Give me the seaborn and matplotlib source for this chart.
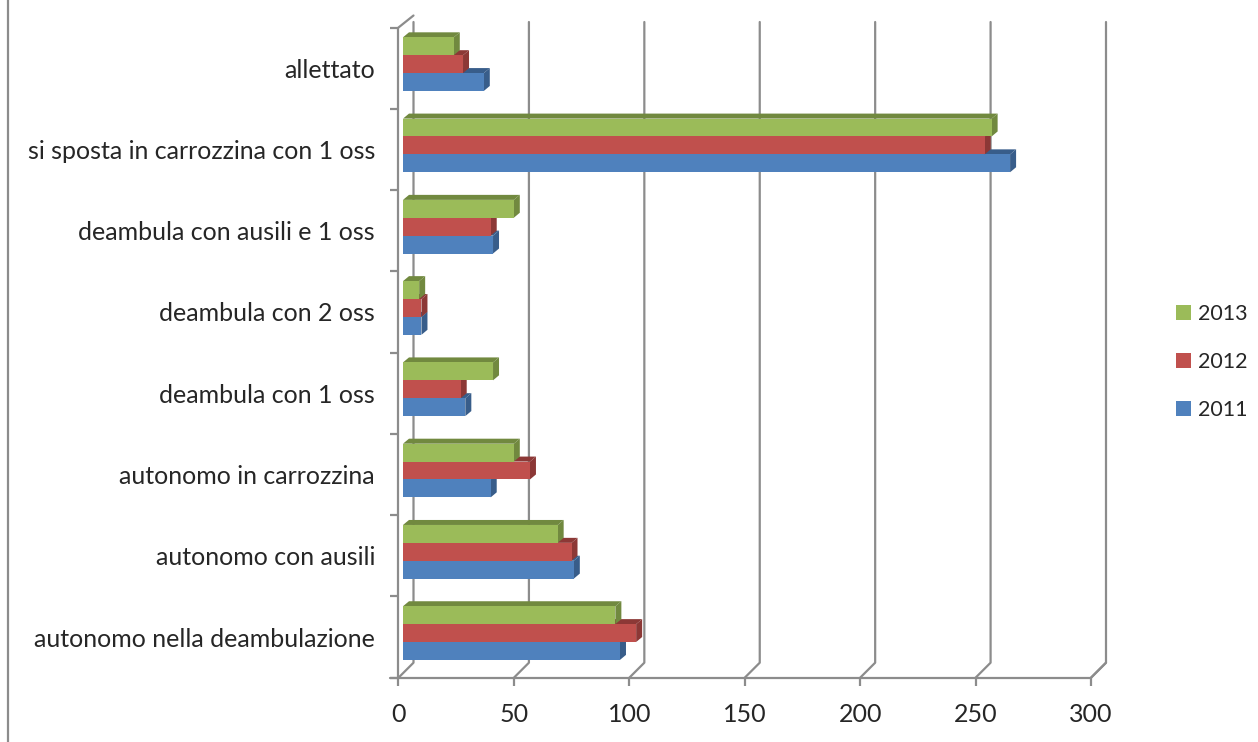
import matplotlib.pyplot as plt
import matplotlib.transforms as mtransforms
from matplotlib.patches import Polygon, Patch
from matplotlib.lines import Line2D
import seaborn as sns
import pandas as pd

# categorie (dall'alto verso il basso)
categorie = ["allettato", "si sposta in carrozzina con 1 oss", "deambula con ausili e 1 oss",
             "deambula con 2 oss", "deambula con 1 oss", "autonomo in carrozzina",
             "autonomo con ausili", "autonomo nella deambulazione"]
anni = ["2013", "2012", "2011"]
v2013 = [22, 255, 48, 7, 39, 48, 67, 92]
v2012 = [26, 252, 38, 8, 25, 55, 73, 101]
v2011 = [35, 263, 39, 8, 27, 38, 74, 94]
xticks = [0, 50, 100, 150, 200, 250, 300]

colori = {"2013": "#9BBB59", "2012": "#C0504D", "2011": "#4F81BD"}
scuri = {"2013": "#71893F", "2012": "#8C3836", "2011": "#385D8A"}

df = pd.DataFrame({
    "categoria": categorie * 3,
    "anno": ["2013"] * 8 + ["2012"] * 8 + ["2011"] * 8,
    "valore": v2013 + v2012 + v2011,
})

sns.set_style("white")
plt.rcParams["font.family"] = ["Lato", "DejaVu Sans"]

fig = plt.figure(figsize=(12.58, 7.42), dpi=100)
ax = fig.add_axes([398.5 / 1258, 1 - 677.7 / 742, (1091 - 398.5) / 1258, (677.7 - 27.5) / 742])

sns.barplot(data=df, y="categoria", x="valore", hue="anno", order=categorie,
            hue_order=anni, palette=colori, orient="h", width=0.66, ax=ax,
            legend=False, saturation=1, edgecolor="none")

ax.set_xlim(0, 300)
ax.set_ylim(7.5, -0.5)
ax.set_xlabel("")
ax.set_ylabel("")
for s in ax.spines.values():
    s.set_visible(False)

# pseudo 3D
grigio = "#8C8C8C"
pxx = ax.transData.transform((1, 0))[0] - ax.transData.transform((0, 0))[0]
pxy = abs(ax.transData.transform((0, 1))[1] - ax.transData.transform((0, 0))[1])
depth_x = 15 / pxx
depth_y = 15 / pxy
off = mtransforms.ScaledTranslation(4.5 / 100, 4 / 100, fig.dpi_scale_trans)
bx, by = 6 / pxx, 5 / pxy

n = len(categorie)
for i, anno in enumerate(anni):
    z = 10 - i  # le barre in alto coprono la faccia superiore di quelle sotto
    for p in ax.patches[i * n:(i + 1) * n]:
        x0, y0 = p.get_x(), p.get_y()
        w, h = p.get_width(), p.get_height()
        p.set_transform(ax.transData + off)
        p.set_zorder(z + 0.5)
        # asse y invertito: y0 e' il bordo superiore
        top = Polygon([(x0, y0), (x0 + bx, y0 - by), (x0 + w + bx, y0 - by), (x0 + w, y0)],
                      closed=True, facecolor=scuri[anno], edgecolor="none",
                      transform=ax.transData + off, zorder=z + 0.1)
        side = Polygon([(x0 + w, y0), (x0 + w + bx, y0 - by), (x0 + w + bx, y0 + h - by), (x0 + w, y0 + h)],
                       closed=True, facecolor=scuri[anno], edgecolor="none",
                       transform=ax.transData + off, zorder=z + 0.1)
        ax.add_patch(top)
        ax.add_patch(side)

# griglia sul fondo
y_front = 7.5
y_back = 7.5 - depth_y
y_top = -0.5 - 5.5 / pxy
for t in xticks:
    ax.add_line(Line2D([t, t + depth_x, t + depth_x], [y_front, y_back, y_top],
                       color=grigio, lw=1.6, zorder=1, clip_on=False))
# asse y frontale
ax.add_line(Line2D([0, 0], [7.5, -0.5], color=grigio, lw=1.6, zorder=1, clip_on=False))
ax.add_line(Line2D([0, depth_x], [-0.5, -0.5 - 12 / pxy], color=grigio, lw=1.6, zorder=1, clip_on=False))
# asse x frontale
ax.add_line(Line2D([-8 / pxx, 300], [7.5, 7.5], color=grigio, lw=1.6, zorder=1, clip_on=False))
ax.add_line(Line2D([300, 300 + depth_x], [7.5, y_back], color=grigio, lw=1.6, zorder=1, clip_on=False))

ax.set_xticks(xticks)
ax.set_xticklabels([str(t) for t in xticks])
ax.tick_params(axis="x", length=6, width=1.6, color=grigio, labelsize=18, pad=12, direction="out", bottom=True)
ax.set_yticks(range(n))
ax.set_yticklabels(categorie)
ax.set_yticks([k - 0.5 for k in range(n + 1)], minor=True)
ax.tick_params(axis="y", which="major", length=0, labelsize=18, pad=17)
ax.tick_params(axis="y", which="minor", length=6, width=1.6, color=grigio, left=True)

# legenda
maniglie = [Patch(facecolor=colori[a], edgecolor="none", label=a) for a in anni]
fig.legend(handles=maniglie, loc="center left", bbox_to_anchor=(1176 / 1258, 1 - 362 / 742),
           frameon=False, fontsize=15.5, handlelength=0.7, handleheight=0.7,
           handletextpad=0.3, labelspacing=1.3, borderpad=0, borderaxespad=0)

# bordo del grafico
fig.add_artist(Line2D([8 / 1258, 8 / 1258], [0, 1], color=grigio, lw=1.6, transform=fig.transFigure))

plt.savefig("out.png", dpi=100)
